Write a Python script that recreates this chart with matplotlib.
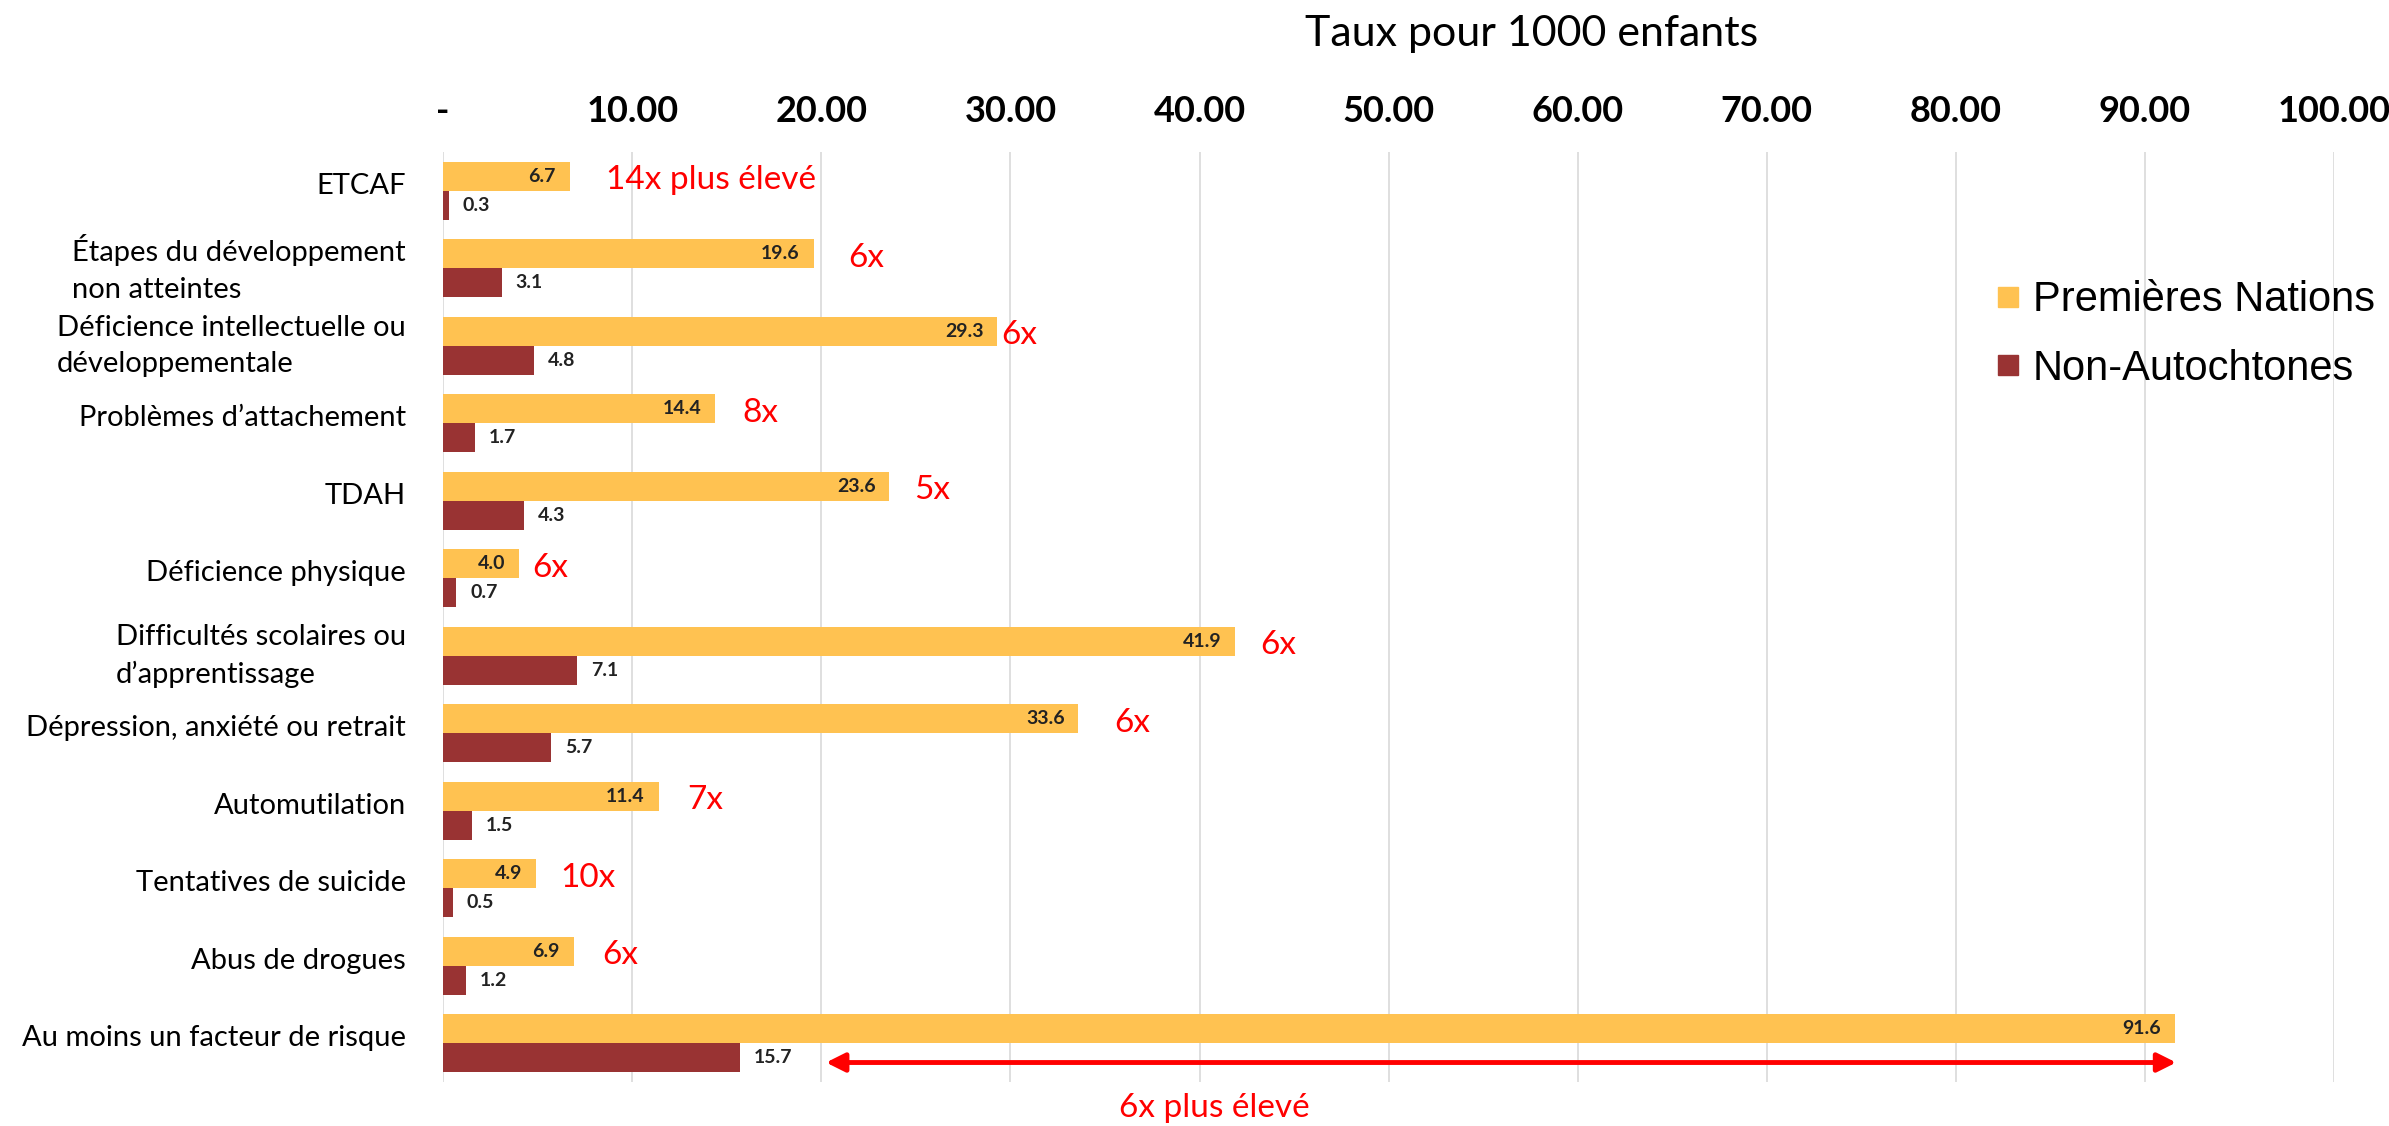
import numpy as np
import matplotlib
matplotlib.use('Agg')
import matplotlib.pyplot as plt
from matplotlib.lines import Line2D

plt.rcParams['font.family'] = ['Lato', 'DejaVu Sans']

# Data
categories = ['ETCAF', 'Étapes du développement\nnon atteintes',
              'Déficience intellectuelle ou\ndéveloppementale',
              'Problèmes d’attachement', 'TDAH', 'Déficience physique',
              'Difficultés scolaires ou\nd’apprentissage',
              'Dépression, anxiété ou retrait', 'Automutilation',
              'Tentatives de suicide', 'Abus de drogues',
              'Au moins un facteur de risque']
premieres_nations = [6.7, 19.6, 29.3, 14.4, 23.6, 4.0, 41.9, 33.6, 11.4, 4.9, 6.9, 91.6]
non_autochtones = [0.3, 3.1, 4.8, 1.7, 4.3, 0.7, 7.1, 5.7, 1.5, 0.5, 1.2, 15.7]
ratio_labels = ['14x plus élevé', '6x', '6x', '8x', '5x', '6x', '6x', '6x', '7x', '10x', '6x']
ratio_x = [8.6, 21.4, 29.5, 15.8, 24.9, 4.7, 43.2, 35.5, 12.9, 6.2, 8.4]
xticks = [0, 10, 20, 30, 40, 50, 60, 70, 80, 90, 100]
xtick_labels = ['-'] + [f'{v:.2f}' for v in xticks[1:]]

yellow = '#FFC251'
maroon = '#993333'
red = '#FF0000'

fig = plt.figure(figsize=(23.89, 11.26), dpi=100)
ax = fig.add_axes([0.1855, 0.039, 0.7915, 0.826])

y = np.arange(len(categories))
h = 0.375
ax.barh(y - h / 2, premieres_nations, height=h, color=yellow, label='Premières Nations', zorder=2)
ax.barh(y + h / 2, non_autochtones, height=h, color=maroon, label='Non-Autochtones', zorder=2)

# value labels
for yi, v in zip(y, premieres_nations):
    ax.annotate(f'{v:.1f}', (v, yi - h / 2), xytext=(-10, 0), textcoords='offset points',
                ha='right', va='center', fontsize=14, fontweight='bold', color='#222222')
for yi, v in zip(y, non_autochtones):
    ax.annotate(f'{v:.1f}', (v, yi + h / 2), xytext=(10, 0), textcoords='offset points',
                ha='left', va='center', fontsize=14, fontweight='bold', color='#222222')

# ratio annotations
for yi, lab, xr in zip(y, ratio_labels, ratio_x):
    ax.text(xr, yi - h / 2 + 0.05, lab, ha='left', va='center', fontsize=24, color=red)

# arrow on last row
ax.annotate('', xy=(20.1, 11 + h / 2 + 0.06), xytext=(91.8, 11 + h / 2 + 0.06),
            arrowprops=dict(arrowstyle='<|-|>', color=red, lw=3.5, mutation_scale=28))
ax.text(40.8, 11.84, '6x plus élevé', ha='center', va='center', fontsize=24, color=red,
        clip_on=False)

ax.set_xlim(0, 100)
ax.set_ylim(11.5, -0.5)
ax.xaxis.tick_top()
ax.set_xticks(xticks)
ax.set_xticklabels(xtick_labels, fontsize=26, fontweight='bold')
ax.set_yticks(y - 0.1)
ax.set_yticklabels(categories, fontsize=21, linespacing=1.5, multialignment='left')
ax.tick_params(axis='both', length=0)
ax.tick_params(axis='x', pad=17)
ax.tick_params(axis='y', pad=27)
ax.grid(axis='x', color='#D9D9D9', linewidth=1.2, zorder=0)
for s in ax.spines.values():
    s.set_visible(False)

fig.text(0.641, 0.97, 'Taux pour 1000 enfants', ha='center', va='center', fontsize=31)

handles = [Line2D([], [], marker='s', linestyle='none', markersize=14, color=yellow),
           Line2D([], [], marker='s', linestyle='none', markersize=14, color=maroon)]
fig.legend(handles, ['Premières Nations', 'Non-Autochtones'], loc='upper left',
           bbox_to_anchor=(0.837, 0.751), frameon=False,
           prop={'family': 'Liberation Sans', 'size': 30},
           handletextpad=0.4, labelspacing=0.68, borderpad=0, borderaxespad=0,
           handlelength=0.4)

fig.savefig('out.png', dpi=100)
